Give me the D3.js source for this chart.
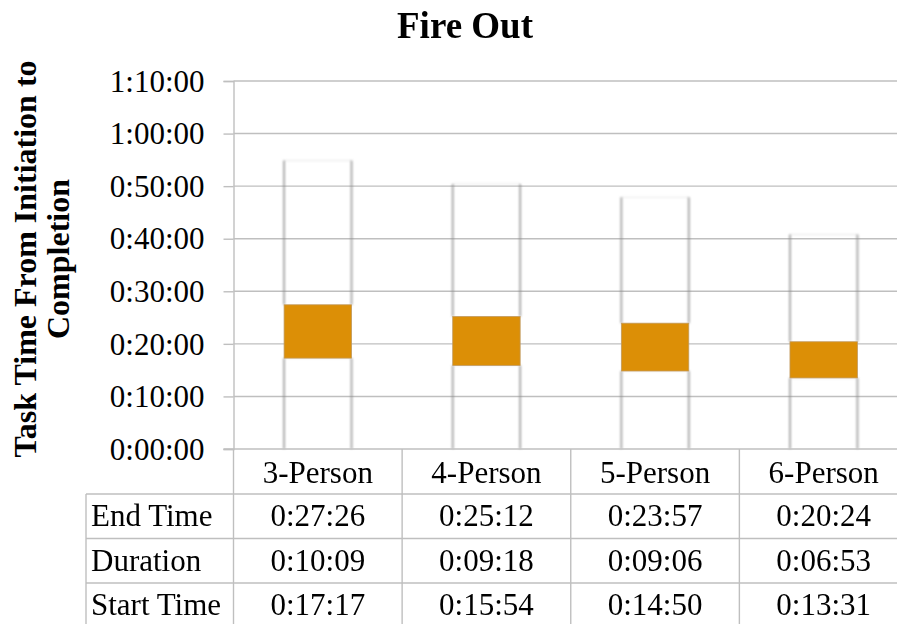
<!DOCTYPE html>
<html>
<head>
<meta charset="utf-8">
<script src="https://cdn.jsdelivr.net/npm/d3@7"></script>
<style>
  html, body { margin: 0; padding: 0; background: #fff; }
  svg { display: block; font-family: "Liberation Serif", "Times New Roman", serif; }
</style>
</head>
<body>
<svg id="chart" width="897" height="624"></svg>
<script>
// Fire Out task timing by crew size
const categories = ["3-Person", "4-Person", "5-Person", "6-Person"];
const endTime   = ["0:27:26", "0:25:12", "0:23:57", "0:20:24"];
const duration  = ["0:10:09", "0:09:18", "0:09:06", "0:06:53"];
const startTime = ["0:17:17", "0:15:54", "0:14:50", "0:13:31"];
const yTickSeconds = [0, 600, 1200, 1800, 2400, 3000, 3600, 4200];
const tableRows = [
  { name: "End Time", values: endTime },
  { name: "Duration", values: duration },
  { name: "Start Time", values: startTime }
];

const toSec = s => { const [h, m, sec] = s.split(":").map(Number); return h * 3600 + m * 60 + sec; };
const fmt = v => { const h = Math.floor(v / 3600), m = Math.floor((v % 3600) / 60), s = v % 60;
  return h + ":" + String(m).padStart(2, "0") + ":" + String(s).padStart(2, "0"); };

// stacked series: start (hidden), duration (shown), end (hidden)
const rows = categories.map((c, i) => ({
  cat: c, start: toSec(startTime[i]), duration: toSec(duration[i]), end: toSec(endTime[i])
}));
const keys = ["start", "duration", "end"];
const stacked = d3.stack().keys(keys)(rows);

const svg = d3.select("#chart");
const plotLeft = 233.5, plotRight = 908, plotTop = 81, plotBottom = 449;

const x = d3.scaleBand().domain(categories).range([plotLeft, plotRight])
  .paddingInner(0.6).paddingOuter(0.3);
const y = d3.scaleLinear().domain([0, 4200]).range([plotBottom, plotTop]);

const defs = svg.append("defs");
defs.append("filter").attr("id", "soft").attr("x", "-50%").attr("y", "-50%").attr("width", "200%").attr("height", "200%")
  .append("feGaussianBlur").attr("stdDeviation", 0.9);

const gridColor = "#bfbfbf";

// gridlines
svg.append("g").selectAll("line").data(yTickSeconds.slice(1)).join("line")
  .attr("x1", plotLeft).attr("x2", plotRight)
  .attr("y1", d => y(d)).attr("y2", d => y(d))
  .attr("stroke", gridColor).attr("stroke-width", 1.4);

// y axis
const yAxis = d3.axisLeft(y).tickValues(yTickSeconds).tickFormat(fmt).tickSize(10).tickPadding(19);
const gy = svg.append("g").attr("transform", `translate(${plotLeft},0)`).call(yAxis);
gy.select(".domain").attr("stroke", gridColor).attr("stroke-width", 1.4);
gy.selectAll(".tick line").attr("stroke", gridColor).attr("stroke-width", 1.4);
gy.selectAll(".tick text").attr("font-size", 31).attr("fill", "#000")
  .attr("font-family", "Liberation Serif, Times New Roman, serif").attr("dy", "0.33em");

// hidden segments: only their soft edges show
const edgeColor = "#8c8c8c";
[stacked[0], stacked[2]].forEach(series => {
  const g = svg.append("g").attr("filter", "url(#soft)");
  series.forEach(d => {
    const x0 = x(d.data.cat), x1 = x0 + x.bandwidth();
    const yt = y(d[1]), yb = y(d[0]);
    g.append("line").attr("x1", x0).attr("x2", x0).attr("y1", yt).attr("y2", yb)
      .attr("stroke", edgeColor).attr("stroke-width", 1.8).attr("opacity", 0.8);
    g.append("line").attr("x1", x1).attr("x2", x1).attr("y1", yt).attr("y2", yb)
      .attr("stroke", edgeColor).attr("stroke-width", 1.8).attr("opacity", 0.8);
    g.append("line").attr("x1", x0).attr("x2", x1).attr("y1", yt).attr("y2", yt)
      .attr("stroke", edgeColor).attr("stroke-width", 1).attr("opacity", 0.2);
  });
});

// duration bars
svg.append("g").selectAll("rect").data(stacked[1]).join("rect")
  .attr("x", d => x(d.data.cat))
  .attr("width", x.bandwidth())
  .attr("y", d => y(d[1]))
  .attr("height", d => y(d[0]) - y(d[1]))
  .attr("fill", "#dc8f06")
  .attr("stroke", "#c09a60").attr("stroke-width", 0.8);

// data table
const tableLeft = 86, rowH = 44.5, headTop = plotBottom, headBottom = 494;
const step = x.step();
const colEdges = d3.range(categories.length + 1).map(i => plotLeft + i * step);
const tg = svg.append("g");
const lineAttr = sel => sel.attr("stroke", gridColor).attr("stroke-width", 1.4);

// horizontal axis line and row separators
lineAttr(tg.append("line").attr("x1", plotLeft - 10).attr("x2", plotRight).attr("y1", headTop).attr("y2", headTop));
d3.range(tableRows.length + 1).forEach(r => {
  const yy = headBottom + r * rowH;
  lineAttr(tg.append("line").attr("x1", tableLeft).attr("x2", plotRight).attr("y1", yy).attr("y2", yy));
});
lineAttr(tg.append("line").attr("x1", tableLeft).attr("x2", tableLeft).attr("y1", headBottom).attr("y2", 640));
colEdges.forEach(cx => lineAttr(tg.append("line").attr("x1", cx).attr("x2", cx).attr("y1", headTop).attr("y2", 640)));

// category labels
tg.selectAll("text.cat").data(categories).join("text").attr("class", "cat")
  .attr("x", d => x(d) + x.bandwidth() / 2).attr("y", 483)
  .attr("text-anchor", "middle").attr("font-size", 31).text(d => d);

// row names and values
tableRows.forEach((row, r) => {
  const base = headBottom + r * rowH + 32;
  tg.append("text").attr("x", 91).attr("y", base).attr("font-size", 31).text(row.name);
  tg.selectAll(null).data(row.values).join("text")
    .attr("x", (d, i) => x(categories[i]) + x.bandwidth() / 2).attr("y", base)
    .attr("text-anchor", "middle").attr("font-size", 31).text(d => d);
});

// title
svg.append("text").attr("x", 465).attr("y", 38).attr("text-anchor", "middle")
  .attr("font-size", 37).attr("font-weight", "bold").text("Fire Out");

// y axis title
const yt = svg.append("text").attr("transform", "translate(0,259) rotate(-90)")
  .attr("text-anchor", "middle").attr("font-size", 32).attr("font-weight", "bold");
yt.append("tspan").attr("x", 0).attr("y", 36).text("Task Time From Initiation to");
yt.append("tspan").attr("x", 0).attr("y", 69).text("Completion");
</script>
</body>
</html>
